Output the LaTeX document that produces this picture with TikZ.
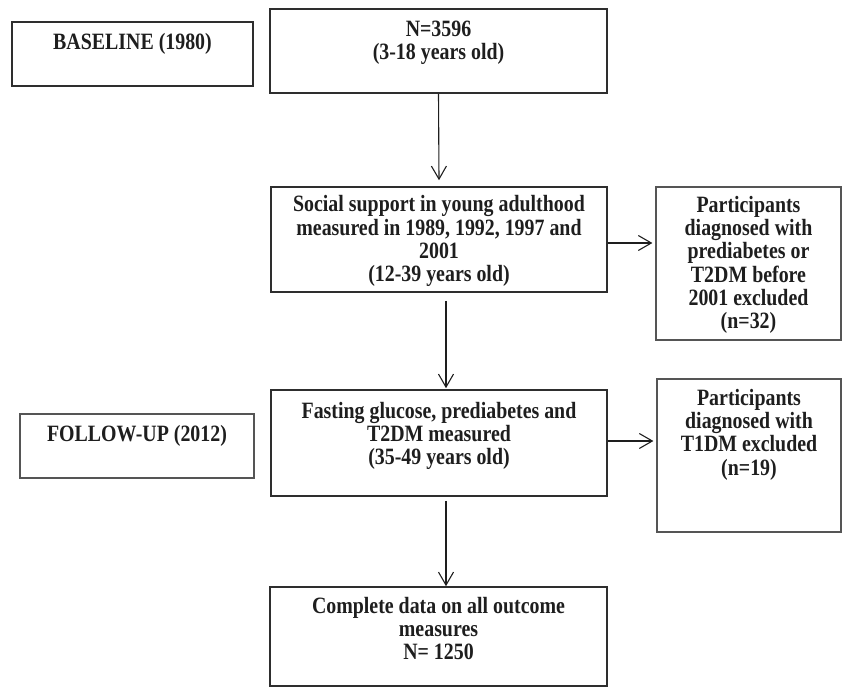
\documentclass[tikz,border=0pt]{standalone}
\usepackage{fontspec}
\usepackage{graphicx}
\setmainfont{Liberation Serif}
\usetikzlibrary{arrows.meta}
\definecolor{ink}{HTML}{1E1E1E}
\definecolor{edge}{HTML}{2E2E2E}
\definecolor{edgelight}{HTML}{555555}
\newcommand\talltext[1]{\scalebox{0.97}[1.14]{\begin{tabular}{@{}c@{}}#1\end{tabular}}}
\tikzset{
  boxmain/.style={draw=edge, line width=1.6pt, minimum width=#1, inner sep=0pt, fill=none},
  boxside/.style={draw=edgelight, line width=1.2pt, inner sep=0pt},
  txt/.style={text=ink, font=\bfseries\fontsize{20.5}{20.4}\selectfont, inner sep=0pt},
  arr/.style={draw=ink, line width=1.1pt, -{Straight Barb[length=13pt,width=15pt,line width=1.1pt]}}
}
\begin{document}
\begin{tikzpicture}[x=1pt,y=-1pt]
\useasboundingbox (0,0) rectangle (843,687);
% boxes
\node[boxmain=241pt, minimum height=64pt] (base) at (132.5,54) {};
\node[boxmain=337pt, minimum height=84pt] (n) at (438.5,51) {};
\node[boxmain=336pt, minimum height=105pt] (soc) at (439,239.5) {};
\node[boxside, minimum width=185pt, minimum height=153pt] (ex1) at (748.5,263.5) {};
\node[boxmain=336pt, minimum height=106pt] (fast) at (439,443) {};
\node[boxside, minimum width=184pt, minimum height=153pt] (ex2) at (749,455.5) {};
\node[boxside, minimum width=234pt, minimum height=64pt] (fu) at (137,446) {};
\node[boxmain=337pt, minimum height=99pt] (comp) at (438.5,636.5) {};
% texts
\node[txt] (basetxt) at (132.5,45) {\talltext{BASELINE (1980)}};
\node[txt] (ntxt) at (438.5,43) {\talltext{N=3596\\(3-18 years old)}};
\node[txt] (soctxt) at (439,242) {\talltext{Social support in young adulthood\\measured in 1989, 1992, 1997 and\\2001\\(12-39 years old)}};
\node[txt] (ex1txt) at (748.5,266) {\talltext{Participants\\diagnosed with\\prediabetes or\\T2DM before\\2001 excluded\\(n=32)}};
\node[txt] (fasttxt) at (439,437) {\talltext{Fasting glucose, prediabetes and\\T2DM measured\\(35-49 years old)}};
\node[txt] (ex2txt) at (749,435.5) {\talltext{Participants\\diagnosed with\\T1DM excluded\\(n=19)}};
\node[txt] (futxt) at (137,437) {\talltext{FOLLOW-UP (2012)}};
\node[txt] (comptxt) at (438.5,632) {\talltext{Complete data on all outcome\\measures\\N= 1250}};
% connectors
\draw[arr] (n.south) -- ([yshift=6pt]soc.north);
\draw[arr] ([xshift=7pt,yshift=-8pt]soc.south) -- ([xshift=7pt,yshift=1pt]fast.north);
\draw[arr] ([xshift=7pt,yshift=-4pt]fast.south) -- ([xshift=7.5pt]comp.north);
\coordinate (a1) at ([yshift=-3.5pt]soc.east);
\draw[arr] (a1) -- ([xshift=-3pt]ex1.west |- a1);
\coordinate (a2) at ([yshift=2pt]fast.east);
\draw[arr] (a2) -- ([xshift=-3pt]ex2.west |- a2);
\end{tikzpicture}
\end{document}
